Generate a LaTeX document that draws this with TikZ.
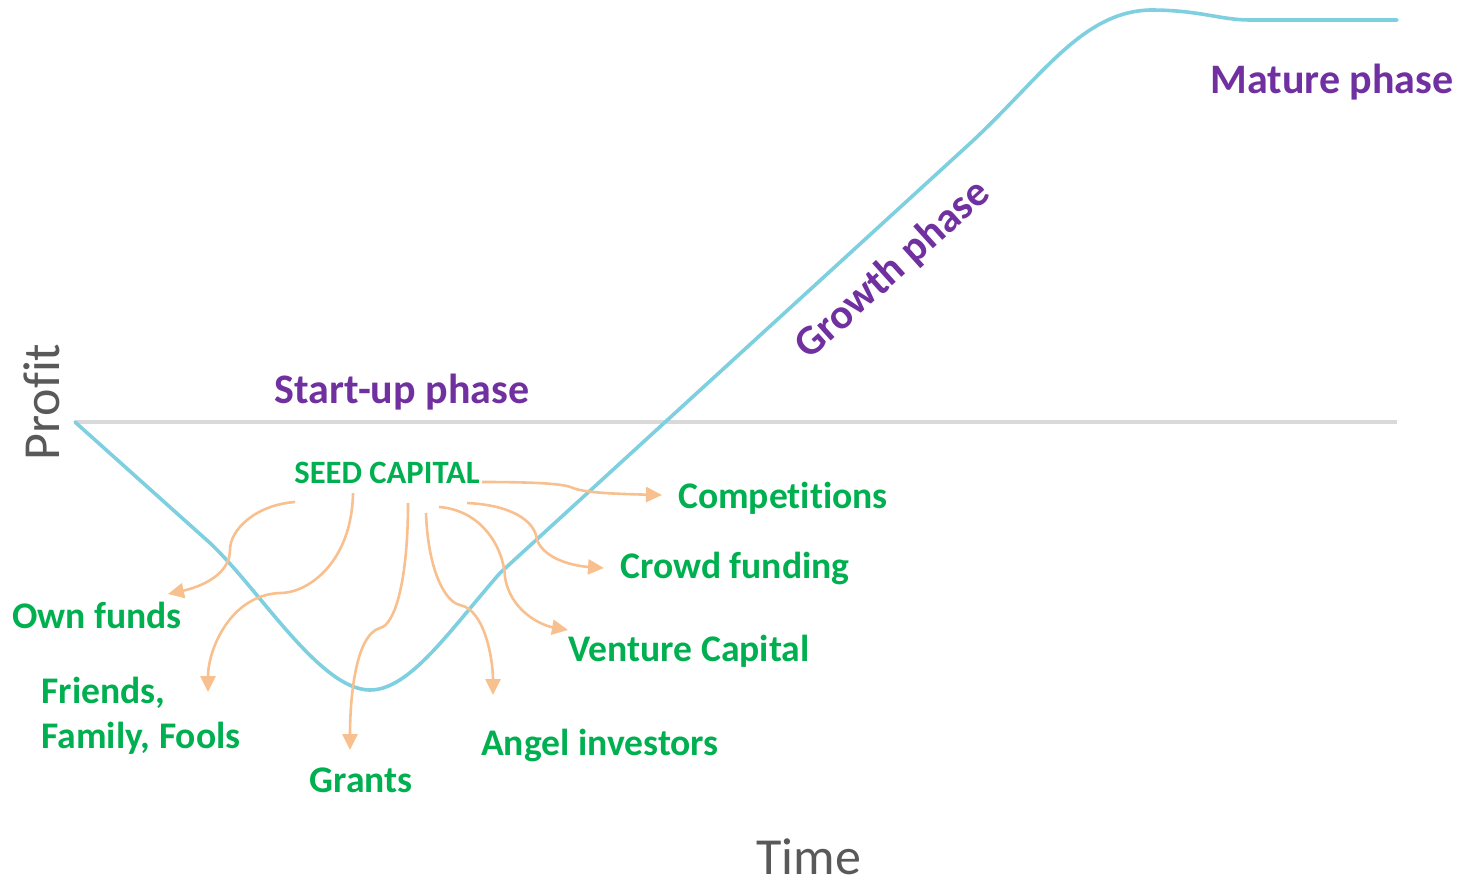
\documentclass[tikz,border=0pt]{standalone}
\usepackage{fontspec}
\setmainfont{Carlito}[Ligatures={NoCommon,NoRare,NoContextual}]
\usetikzlibrary{arrows.meta}
\definecolor{curveblue}{HTML}{7ECFE0}
\definecolor{axisgray}{HTML}{D9D9D9}
\definecolor{labelgray}{HTML}{595959}
\definecolor{phasepurple}{HTML}{7030A0}
\definecolor{fundgreen}{HTML}{00B050}
\definecolor{flowpeach}{HTML}{F8C08E}

\begin{document}
\begin{tikzpicture}[x=0.5pt, y=-0.5pt, every node/.style={inner sep=0pt},
    phase/.style={text=phasepurple, font=\bfseries\fontsize{21}{25}\selectfont},
    fund/.style={text=fundgreen, font=\bfseries\fontsize{18.8}{22.5}\selectfont},
    axislabel/.style={text=labelgray, font=\fontsize{26}{30}\selectfont},
    flow/.style={draw=flowpeach, line width=1.3pt, -{Triangle[length=8pt,width=7.5pt]}}]
        \useasboundingbox (0,0) rectangle (1462,884);
        % axis and profit curve
        \draw[axisgray, line width=1.6pt] (75,422) -- (1397,422);
        \draw[curveblue, line width=1.8pt, line cap=round] (75,422) -- (210,543)
            .. controls (260,590) and (320,690) .. (370,690)
            .. controls (410,690) and (450,630) .. (500,573) -- (965,148)
            .. controls (1040,80) and (1080,12) .. (1150,10)
            .. controls (1200,10) and (1220,20) .. (1250,20) -- (1397,20);
        \node[axislabel, rotate=90] (profit) at (42,402) {Profit};
        \node[axislabel] (time) at (809,857) {Time};
        % phases
        \node[phase] (startup) at (402,392) {Start-up phase};
        \node[phase, rotate=42] (growth) at (893,270) {Growth phase};
        \node[phase] (mature) at (1332,82) {Mature phase};
        % funding sources
        \node[fund, font=\bfseries\fontsize{16.3}{19}\selectfont] (seed) at (387,473) {SEED CAPITAL};
        \node[fund] (comp) at (783,498) {Competitions};
        \node[fund] (crowd) at (735,568) {Crowd funding};
        \node[fund] (own) at (97,615) {Own funds};
        \node[fund] (vc) at (689,651) {Venture Capital};
        \node[fund, align=left, anchor=west] (fff) at (41,716) {Friends,\\Family, Fools};
        \node[fund] (grants) at (361,780) {Grants};
        \node[fund] (angel) at (600,745) {Angel investors};
        % arrow ends
        \coordinate (own-s) at (295,502);   \coordinate (own-e) at (168,594);
        \coordinate (fff-s) at (353,493);   \coordinate (fff-e) at (208,692);
        \coordinate (grants-s) at (408,503); \coordinate (grants-e) at (350,750);
        \coordinate (angel-s) at (426,513); \coordinate (angel-e) at (493,695);
        \coordinate (vc-s) at (439,507);    \coordinate (vc-e) at (568,630);
        \coordinate (crowd-s) at (467,503); \coordinate (crowd-e) at (604,568);
        \coordinate (comp-s) at (482,482);  \coordinate (comp-e) at (662,495);
        \draw[flow] (own-s) .. controls (255,505) and (230,530) .. (230,550)
            .. controls (230,575) and (200,587) .. (own-e);
        \draw[flow] (fff-s) .. controls (352,560) and (310,593) .. (280,593)
            .. controls (230,595) and (208,650) .. (fff-e);
        \draw[flow] (grants-s) .. controls (408,580) and (395,625) .. (380,628)
            .. controls (355,635) and (350,700) .. (grants-e);
        \draw[flow] (angel-s) .. controls (428,570) and (445,602) .. (460,605)
            .. controls (485,610) and (493,660) .. (angel-e);
        \draw[flow] (vc-s) .. controls (480,510) and (503,545) .. (505,577)
            .. controls (510,610) and (540,625) .. (vc-e);
        \draw[flow] (crowd-s) .. controls (510,505) and (535,520) .. (537,540)
            .. controls (545,560) and (575,566) .. (crowd-e);
        \draw[flow] (comp-s) .. controls (540,482) and (565,484) .. (573,488)
            .. controls (585,493) and (620,494) .. (comp-e);
      \end{tikzpicture}
\end{document}
